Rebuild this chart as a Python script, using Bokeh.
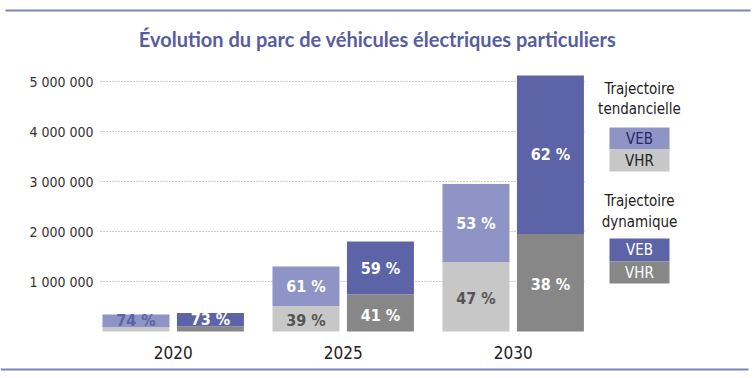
from bokeh.plotting import figure
from bokeh.models import Range1d, ColumnDataSource
from bokeh.core.properties import value
from bokeh.embed import file_html
from bokeh.resources import INLINE

# ---------------- data ----------------
years = ["2020", "2025", "2030"]
tend_veb = [250_000, 790_000, 1_560_000]
tend_vhr = [90_000, 510_000, 1_390_000]
dyn_veb = [270_000, 1_060_000, 3_170_000]
dyn_vhr = [100_000, 740_000, 1_950_000]
tend_veb_pct = ["74 %", "61 %", "53 %"]
tend_vhr_pct = ["", "39 %", "47 %"]
dyn_veb_pct = ["73 %", "59 %", "62 %"]
dyn_vhr_pct = ["", "41 %", "38 %"]
tick_values = [1_000_000, 2_000_000, 3_000_000, 4_000_000, 5_000_000]
tick_labels = ["1 000 000", "2 000 000", "3 000 000", "4 000 000", "5 000 000"]
title_text = "Évolution du parc de véhicules électriques particuliers"
legend_groups = [("Trajectoire", "tendancielle"), ("Trajectoire", "dynamique")]
legend_items = ["VEB", "VHR"]

# ---------------- style ----------------
C_TV = "#8e94c5"   # tendancielle VEB
C_TH = "#c7c7c7"   # tendancielle VHR
C_DV = "#5c64a7"   # dynamique VEB
C_DH = "#878787"   # dynamique VHR
C_TITLE = "#575d9d"
C_RULE = "#7d84b5"
NARROW = value("DejaVu Sans Condensed")

W, H = 756, 378
# layout helpers: page pixel -> data coordinate
def dx(px):
    return (px - 172.7) / 170.0

def dy(py):
    return (331.0 - py) / 50.0 * 1_000_000

p = figure(width=W, height=H, output_backend="svg", toolbar_location=None,
           x_range=Range1d(dx(0), dx(W)), y_range=Range1d(dy(H), dy(0)),
           x_axis_location=None, y_axis_location=None, min_border=0,
           outline_line_color=None, background_fill_color="white",
           border_fill_color="white")
p.grid.visible = False

# rules
p.segment(x0=[dx(5), dx(0)], x1=[dx(750), dx(748)], y0=[dy(10), dy(369)], y1=[dy(10), dy(369)],
          line_color=C_RULE, line_width=2)

# title
p.text(x=[dx(377)], y=[dy(38)], text=[title_text], text_font=value("Lato"),
       text_font_style="bold", text_font_size="20px", text_color=C_TITLE,
       text_align="center", text_baseline="middle")

# grid lines + tick labels
p.segment(x0=[dx(100)] * len(tick_values), x1=[dx(584)] * len(tick_values),
          y0=tick_values, y1=tick_values, line_color="#9a9a9a", line_width=1,
          line_dash="1 2")
p.text(x=[dx(93)] * len(tick_values), y=tick_values, text=tick_labels, text_font=NARROW,
       text_font_size="14px", text_color="#333333", text_align="right",
       text_baseline="middle")

# bars
OFF = 0.219
BW = 0.394
xs = list(range(len(years)))
xt = [x - OFF for x in xs]
xd = [x + OFF for x in xs]
t_tot = [a + b for a, b in zip(tend_vhr, tend_veb)]
d_tot = [a + b for a, b in zip(dyn_vhr, dyn_veb)]

p.vbar(x=xt, width=BW, bottom=0, top=tend_vhr, fill_color=C_TH, line_color=None)
p.vbar(x=xt, width=BW, bottom=tend_vhr, top=t_tot, fill_color=C_TV, line_color=None)
p.vbar(x=xd, width=BW, bottom=0, top=dyn_vhr, fill_color=C_DH, line_color=None)
p.vbar(x=xd, width=BW, bottom=dyn_vhr, top=d_tot, fill_color=C_DV, line_color=None)

# percentage labels
def pct_labels(x, bottom, seg, labels, colors, yoff=0):
    src = ColumnDataSource(dict(x=x, y=[b + s / 2 for b, s in zip(bottom, seg)],
                                text=labels, color=colors))
    p.text(x="x", y="y", text="text", text_color="color", source=src,
           text_font=NARROW, text_font_style="bold", text_font_size="16px",
           text_align="center", text_baseline="middle", y_offset=yoff)

pct_labels(xt, tend_vhr, tend_veb, tend_veb_pct, [C_DV, "white", "white"])
pct_labels(xt, [0] * 3, tend_vhr, tend_vhr_pct, ["#555555"] * 3, yoff=2)
pct_labels(xd, dyn_vhr, dyn_veb, dyn_veb_pct, ["white"] * 3)
pct_labels(xd, [0] * 3, dyn_vhr, dyn_vhr_pct, ["white"] * 3, yoff=2)

# year labels
p.text(x=xs, y=[dy(352)] * 3, text=years, text_font=NARROW, text_font_size="17px",
       text_color="#222222", text_align="center", text_baseline="middle")

# legend
leg_x = dx(639)
heads = [(88, 108), (200, 221)]
boxes = [((127, 149), (149, 171)), ((238, 261), (261, 283))]
fills = [(C_TV, C_TH), (C_DV, C_DH)]
tcols = [("#252a66", "#222222"), ("white", "white")]
for g, (l1, l2) in enumerate(legend_groups):
    p.text(x=[leg_x, leg_x], y=[dy(heads[g][0]), dy(heads[g][1])], text=[l1, l2],
           text_font=NARROW, text_font_size="15px", text_color="#222222",
           text_align="center", text_baseline="middle")
    for k, item in enumerate(legend_items):
        top, bot = boxes[g][k]
        p.quad(left=[dx(609)], right=[dx(669)], top=[dy(top)], bottom=[dy(bot)],
               fill_color=fills[g][k], line_color=None)
        p.text(x=[leg_x], y=[dy((top + bot) / 2)], text=[item], text_font=NARROW,
               text_font_size="15px", text_color=tcols[g][k], text_align="center",
               text_baseline="middle")

open("out.html", "w").write(file_html(p, INLINE))
